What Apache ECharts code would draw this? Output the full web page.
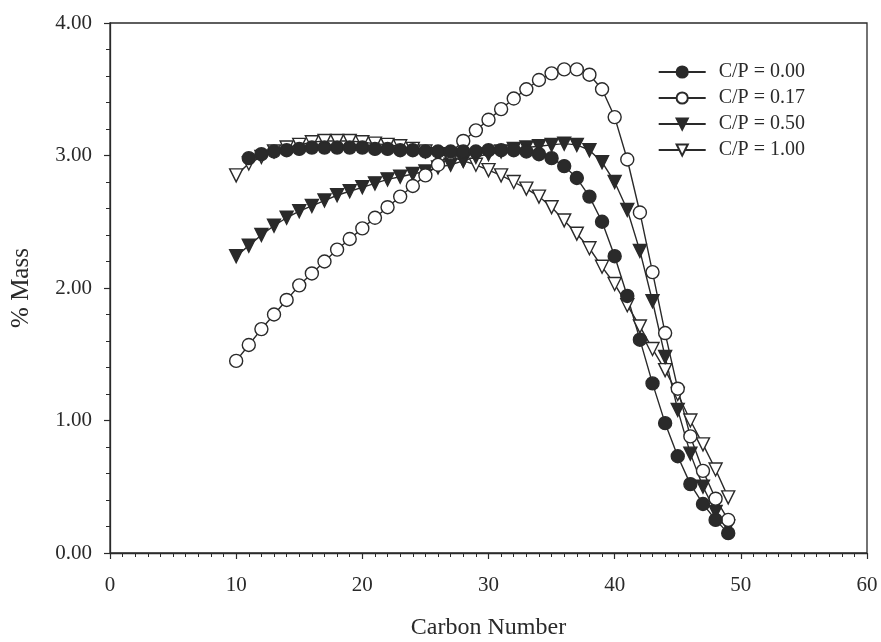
<!DOCTYPE html>
<html><head><meta charset="utf-8">
<script src="https://cdn.jsdelivr.net/npm/echarts@6/dist/echarts.min.js"></script>
<style>html,body{margin:0;padding:0;background:#fff}#c{width:881px;height:642px}</style>
</head><body><div id="c"></div>
<script>
var carbon00 = [11,12,13,14,15,16,17,18,19,20,21,22,23,24,25,26,27,28,29,30,31,32,33,34,35,36,37,38,39,40,41,42,43,44,45,46,47,48,49];
var cp000 = [2.98,3.01,3.03,3.04,3.05,3.06,3.06,3.06,3.06,3.06,3.05,3.05,3.04,3.04,3.03,3.03,3.03,3.03,3.03,3.04,3.04,3.04,3.03,3.01,2.98,2.92,2.83,2.69,2.50,2.24,1.94,1.61,1.28,0.98,0.73,0.52,0.37,0.25,0.15];
var carbon = [10,11,12,13,14,15,16,17,18,19,20,21,22,23,24,25,26,27,28,29,30,31,32,33,34,35,36,37,38,39,40,41,42,43,44,45,46,47,48,49];
var cp017 = [1.45,1.57,1.69,1.80,1.91,2.02,2.11,2.20,2.29,2.37,2.45,2.53,2.61,2.69,2.77,2.85,2.93,3.02,3.11,3.19,3.27,3.35,3.43,3.50,3.57,3.62,3.65,3.65,3.61,3.50,3.29,2.97,2.57,2.12,1.66,1.24,0.88,0.62,0.41,0.25];
var cp050 = [2.24,2.32,2.40,2.47,2.53,2.58,2.62,2.66,2.70,2.73,2.76,2.79,2.82,2.84,2.86,2.88,2.91,2.93,2.96,2.99,3.01,3.03,3.05,3.06,3.07,3.08,3.09,3.08,3.04,2.95,2.80,2.59,2.28,1.90,1.48,1.08,0.75,0.50,0.31,0.20];
var cp100 = [2.85,2.94,2.99,3.03,3.06,3.08,3.10,3.11,3.11,3.11,3.10,3.09,3.08,3.07,3.05,3.03,3.01,2.99,2.96,2.93,2.89,2.85,2.80,2.75,2.69,2.61,2.51,2.41,2.30,2.16,2.03,1.87,1.71,1.54,1.38,1.20,1.00,0.82,0.63,0.42];
var seriesNames = ['C/P = 0.00','C/P = 0.17','C/P = 0.50','C/P = 1.00'];

function pairs(xs, ys){ return xs.map(function(x,i){return [x, ys[i]];}); }
var FONT = '"Liberation Serif","Times New Roman",serif';
var INK = '#2a2a2a';
var triDown = 'path://M0,0 L10,0 L5,9 Z';

function mk(name, data, symbol, fill, size){
  return {
    name: name, type: 'line', data: data, symbol: symbol, symbolSize: size,
    showSymbol: true,
    lineStyle: {color: INK, width: 1.4},
    itemStyle: {color: fill, borderColor: INK, borderWidth: 1.4},
    emphasis: {disabled: true}, animation: false
  };
}

var chart = echarts.init(document.getElementById('c'), null, {renderer: 'canvas'});
chart.setOption({
  backgroundColor: '#fff',
  animation: false,
  grid: {left: 110, right: 14, top: 23, bottom: 89, show: true, borderColor: INK, borderWidth: 1.3, backgroundColor: 'transparent', outerBoundsMode: 'none', containLabel: false},
  legend: {
    right: 71, top: 57, orient: 'vertical', itemWidth: 47, itemHeight: 14, itemGap: 6,
    textStyle: {fontFamily: FONT, fontSize: 20, color: INK, padding: [0,0,0,8]},
    data: seriesNames
  },
  xAxis: {
    type: 'value', min: 0, max: 60, interval: 10,
    name: 'Carbon Number', nameLocation: 'middle', nameGap: 63,
    nameTextStyle: {fontFamily: FONT, fontSize: 24, color: INK},
    axisLine: {show: true, lineStyle: {color: INK, width: 1.3}},
    axisTick: {show: true, length: 6, lineStyle: {color: INK, width: 1.2}},
    minorTick: {show: true, splitNumber: 10, length: 4, lineStyle: {color: INK, width: 1}},
    splitLine: {show: false},
    axisLabel: {fontFamily: FONT, fontSize: 21, color: INK, margin: 22}
  },
  yAxis: {
    type: 'value', min: 0, max: 4, interval: 1,
    name: '% Mass', nameLocation: 'middle', nameGap: 76, nameRotate: 90,
    nameTextStyle: {fontFamily: FONT, fontSize: 25, color: INK},
    axisLine: {show: true, lineStyle: {color: INK, width: 1.3}},
    axisTick: {show: true, length: 6, lineStyle: {color: INK, width: 1.2}},
    minorTick: {show: true, splitNumber: 5, length: 4, lineStyle: {color: INK, width: 1}},
    splitLine: {show: false},
    axisLabel: {fontFamily: FONT, fontSize: 21, color: INK, margin: 18, formatter: function(v){return v.toFixed(2);}}
  },
  series: [
    mk(seriesNames[3], pairs(carbon, cp100), triDown, '#fff', 13),
    mk(seriesNames[2], pairs(carbon, cp050), triDown, INK, 13),
    mk(seriesNames[1], pairs(carbon, cp017), 'circle', '#fff', 13),
    mk(seriesNames[0], pairs(carbon00, cp000), 'circle', INK, 13)
  ]
});
</script>
</body></html>
